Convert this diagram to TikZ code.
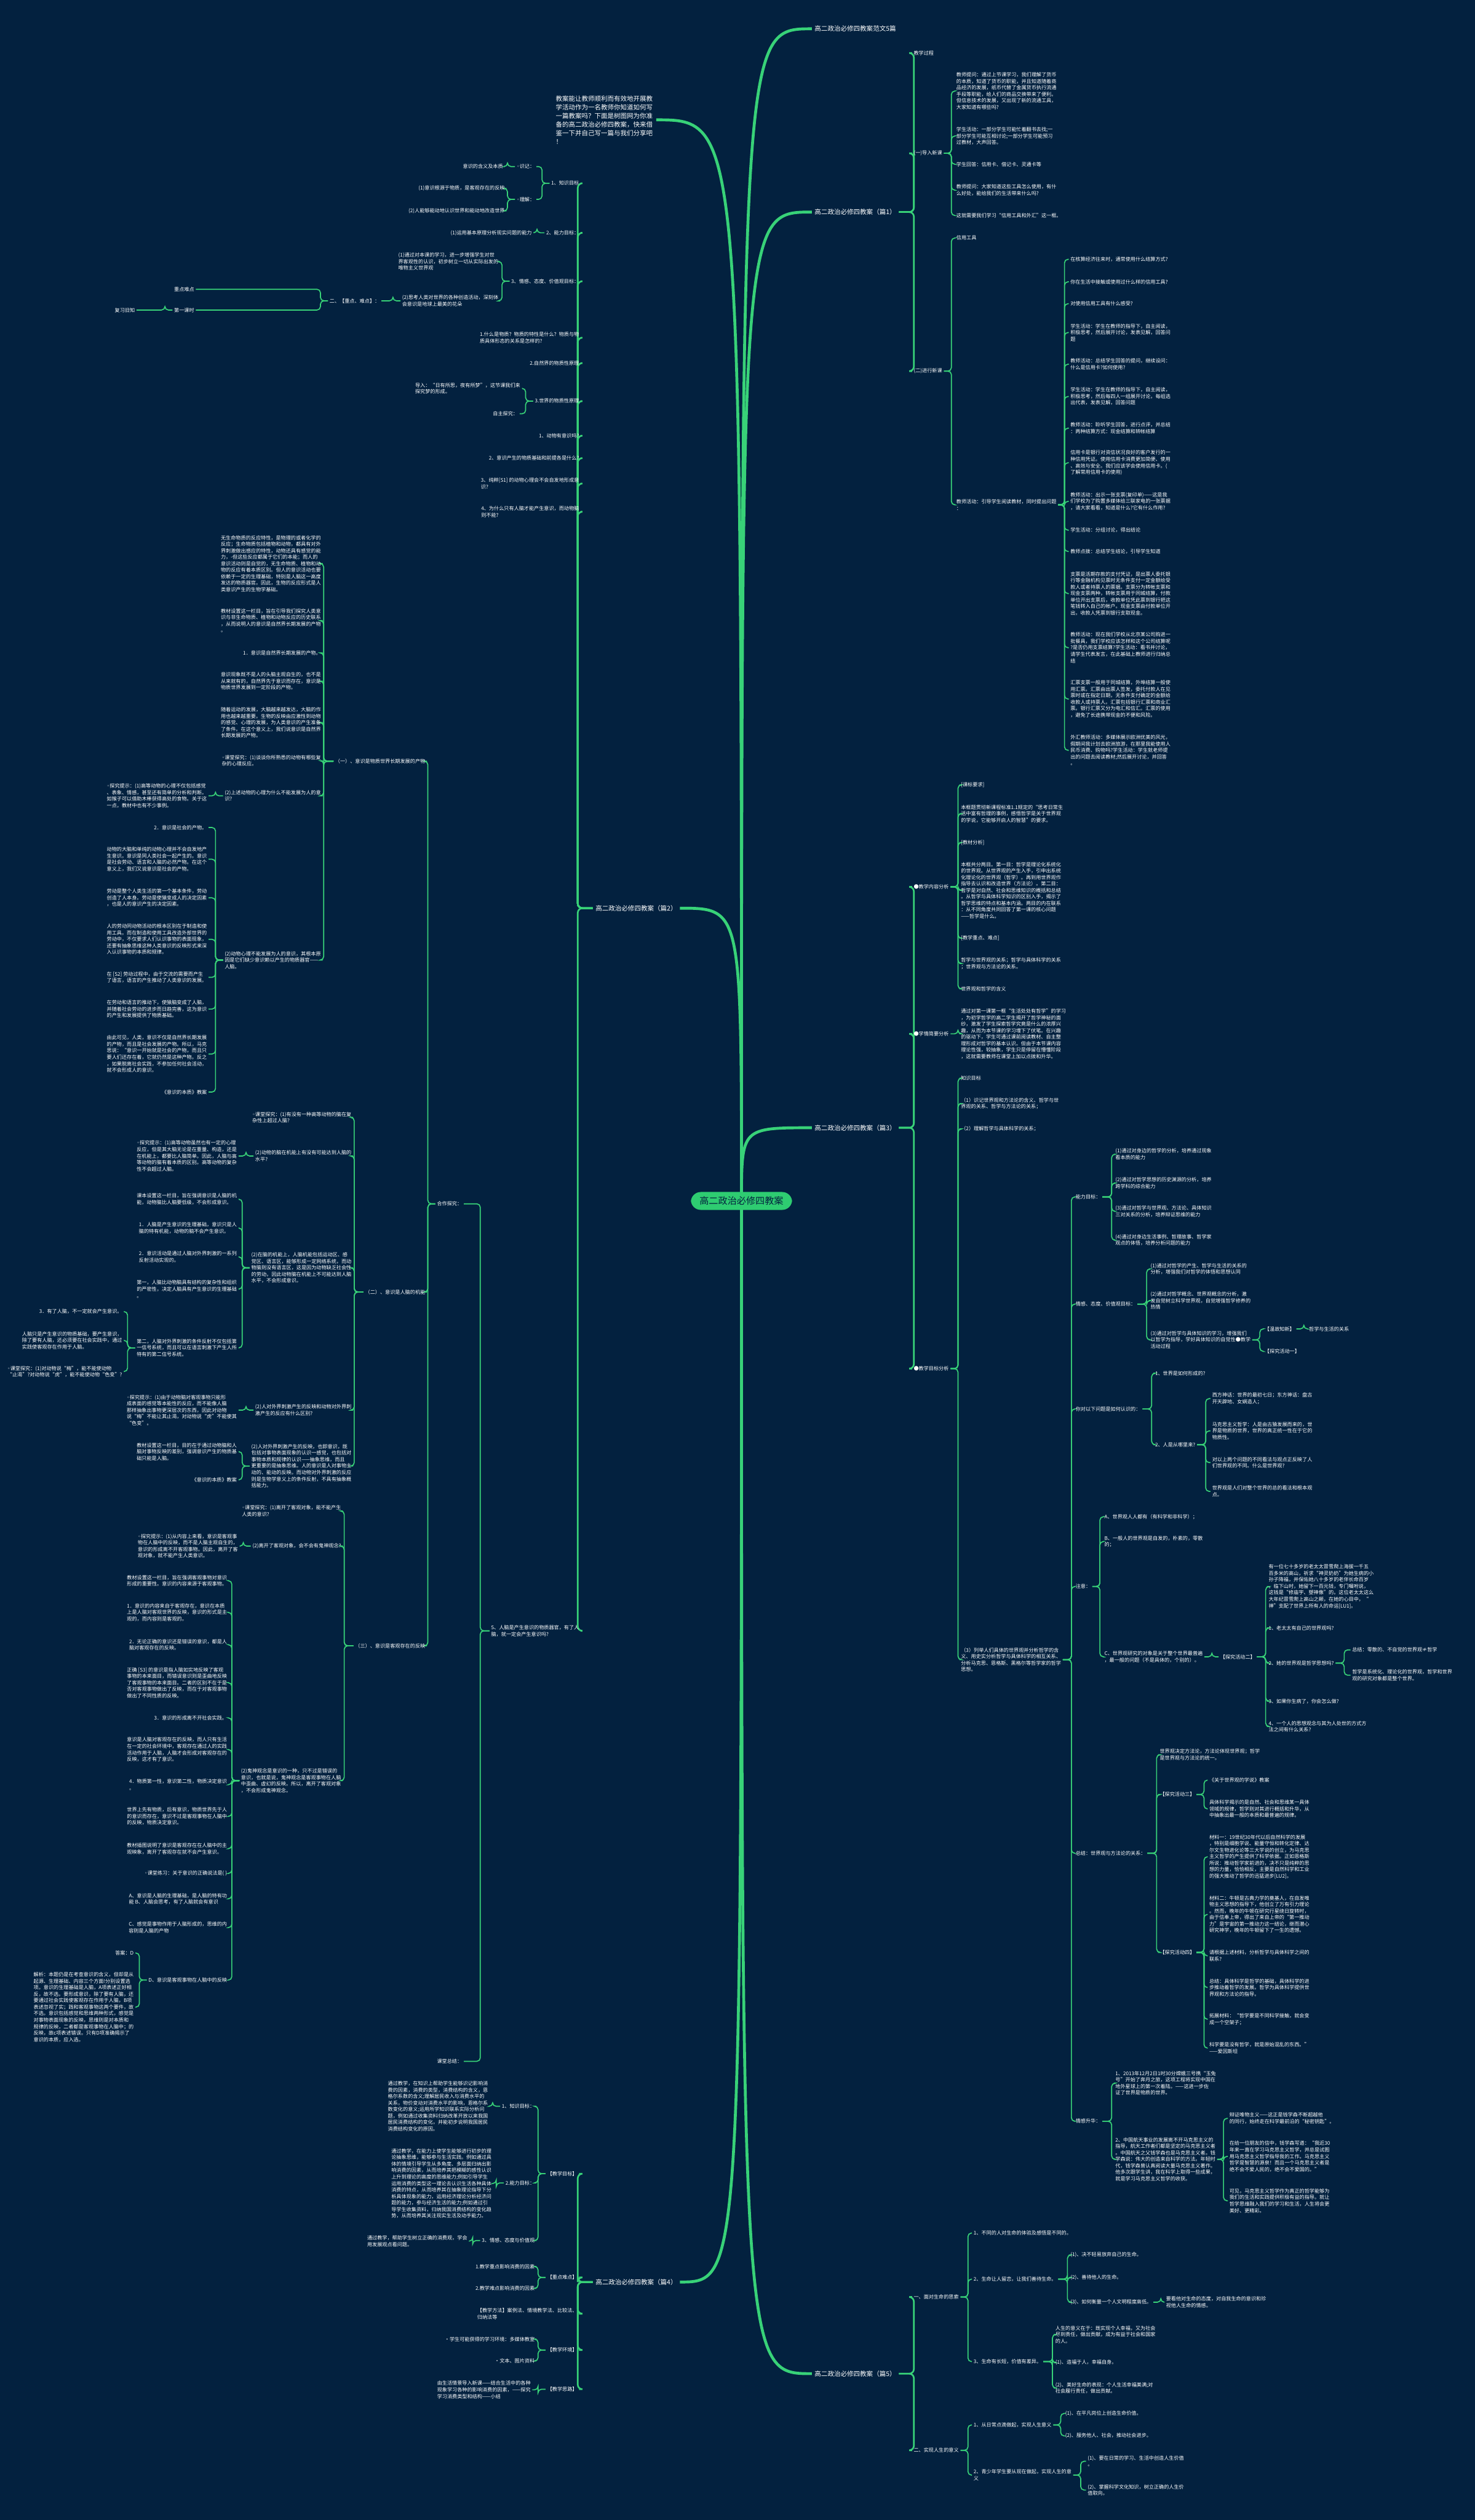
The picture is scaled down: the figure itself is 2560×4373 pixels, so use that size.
\documentclass[tikz,border=0pt]{standalone}
\usepackage{fontspec}
\setmainfont{Noto Sans CJK SC}
\newfontfamily\djv{DejaVu Sans}
\definecolor{bgc}{RGB}{3,33,63}
\definecolor{lnc}{RGB}{56,210,120}
\definecolor{pillc}{RGB}{46,204,113}
\pgfdeclarelayer{bglayer}\pgfdeclarelayer{connlayer}
\pgfsetlayers{bglayer,connlayer,main}
\newcommand\wb{{\djv ◦}}
\tikzset{
 t/.style={font=\fontsize{2.47}{3.2}\selectfont, text=white, inner sep=0pt, outer sep=0.3mm, align=left},
 tl/.style={t, anchor=east}, tr/.style={t, anchor=west},
 ttl/.style={font=\fontsize{3.2}{4}\selectfont, text=white, inner sep=0pt, outer sep=0.5mm},
 conn/.style={draw=lnc, line width=0.18mm, rounded corners=0.6mm},
 conn2/.style={draw=lnc, line width=0.28mm, rounded corners=0.8mm},
 mainc/.style={draw=lnc, line width=0.5mm},
}
\newcommand\RG[3][13]{\foreach \kid in {#3}{\draw[conn] (#2.east) -- ++(#1,0) |- (\kid.west);}}
\newcommand\LG[3][13]{\foreach \kid in {#3}{\draw[conn] (#2.west) -- ++(-#1,0) |- (\kid.east);}}
\newcommand\RT[2]{\foreach \kid in {#2}{\draw[conn2] (#1.east) -- ++(26,0) |- (\kid.west);}}
\newcommand\LT[2]{\foreach \kid in {#2}{\draw[conn2] (#1.west) -- ++(-26,0) |- (\kid.east);}}
\begin{document}
\begin{tikzpicture}[x=0.1mm,y=-0.1mm]
\begin{pgfonlayer}{bglayer}\fill[bgc] (0,0) rectangle (2560,4373);\end{pgfonlayer}
\useasboundingbox (0,0) rectangle (2560,4373);

% ===== root =====
\node[fill=pillc, rounded corners=1.7mm, text=bgc, font=\fontsize{4.6}{5.5}\selectfont, inner xsep=1.5mm, inner ysep=0.8mm] (root) at (1287,2084) {高二政治必修四教案};

% ===== intro =====
\node[anchor=east, font=\fontsize{3.19}{4.27}\selectfont, text=white, align=left, inner sep=0pt, outer sep=0.6mm] (intro) at (1139,208) {教案能让教师顺利而有效地开展教\\学活动作为一名教师你知道如何写\\一篇教案吗？下面是树图网为你准\\备的高二政治必修四教案，快来借\\鉴一下并自己写一篇与我们分享吧\\！};

% ===== right: titles =====
\node[ttl,anchor=west] (f5) at (1409,50) {高二政治必修四教案范文5篇};
\node[ttl,anchor=west] (p1) at (1409,368) {高二政治必修四教案（篇1）};
\node[ttl,anchor=west] (p3) at (1409,1957) {高二政治必修四教案（篇3）};
\node[ttl,anchor=west] (p5) at (1409,4119) {高二政治必修四教案（篇5）};

% ----- 篇1 -----
\node[tr] (p1a) at (1583,92) {教学过程};
\node[tr] (p1b) at (1583,266) {(一)导入新课};
\node[tr] (p1c) at (1583,644) {(二)进行新课};
\node[tr] (p1b1) at (1657,158) {教师提问：通过上节课学习，我们理解了货币\\的本质，知道了货币的职能，并且知道随着商\\品经济的发展，纸币代替了金属货币执行流通\\手段等职能，给人们的商品交换带来了便利。\\但信息技术的发展，又出现了新的流通工具，\\大家知道有哪些吗?};
\node[tr] (p1b2) at (1657,236) {学生活动：一部分学生可能忙着翻书去找;一\\部分学生可能互相讨论;一部分学生可能预习\\过教材，大声回答。};
\node[tr] (p1b3) at (1657,285) {学生回答：信用卡、借记卡、灵通卡等};
\node[tr] (p1b4) at (1657,330) {教师提问：大家知道这些工具怎么使用，有什\\么好处，能给我们的生活带来什么吗?};
\node[tr] (p1b5) at (1657,374) {这就需要我们学习“信用工具和外汇”这一框。};
\node[tr] (p1c1) at (1657,413) {信用工具};
\node[tr] (p1c2) at (1657,876) {教师活动：引导学生阅读教材，同时提出问题\\：};
\node[tr] (q1) at (1855,450) {在核算经济往来时，通常使用什么结算方式?};
\node[tr] (q2) at (1855,489) {你在生活中接触或使用过什么样的信用工具?};
\node[tr] (q3) at (1855,527) {对使用信用工具有什么感受?};
\node[tr] (q4) at (1855,577) {学生活动：学生在教师的指导下，自主阅读，\\积极思考，然后展开讨论，发表见解，回答问\\题};
\node[tr] (q5) at (1855,632) {教师活动：总结学生回答的提问，继续设问：\\什么是信用卡?如何使用?};
\node[tr] (q6) at (1855,688) {学生活动：学生在教师的指导下，自主阅读，\\积极思考，然后每四人一组展开讨论，每组选\\出代表，发表见解，回答问题};
\node[tr] (q7) at (1855,743) {教师活动：聆听学生回答，进行点评，并总结\\：两种结算方式：现金结算和转帐结算};
\node[tr] (q8) at (1855,803) {信用卡是银行对资信状况良好的客户发行的一\\种信用凭证。使用信用卡消费更加简便、使用\\、高效与安全。我们应该学会使用信用卡。(\\了解常用信用卡的使用)};
\node[tr] (q9) at (1855,870) {教师活动：出示一张支票(复印单)——这是我\\们学校为了购置多媒体给三联家电的一张票据\\，请大家看看，知道是什么?它有什么作用?};
\node[tr] (q10) at (1855,920) {学生活动：分组讨论，得出结论};
\node[tr] (q11) at (1855,957) {教师点拨：总结学生结论，引导学生知道};
\node[tr] (q12) at (1855,1030) {支票是活期存款的支付凭证，是出票人委托银\\行等金融机构见票时无条件支付一定金额给受\\款人或者持票人的票据。支票分为转帐支票和\\现金支票两种，转帐支票用于同城结算，付款\\单位开出支票后，收款单位凭此票到银行把这\\笔钱转入自己的帐户。现金支票由付款单位开\\出，收款人凭票到银行支取现金。};
\node[tr] (q13) at (1855,1124) {教师活动：现在我们学校从北京某公司购进一\\批餐具，我们学校应该怎样和这个公司结算呢\\?是否仍用支票结算?学生活动：看书并讨论，\\请学生代表发言，在此基础上教师进行归纳总\\结};
\node[tr] (q14) at (1855,1213) {汇票支票一般用于同城结算，外埠结算一般使\\用汇票。汇票由出票人签发，委托付款人在见\\票时或在指定日期，无条件支付确定的金额给\\收款人或持票人。汇票包括银行汇票和商业汇\\票。银行汇票又分为电汇和信汇。汇票的使用\\，避免了长途携带现金的不便和风险。};
\node[tr] (q15) at (1855,1302) {外汇教师活动：多媒体展示欧洲优美的风光，\\假期间我计划去欧洲旅游，在那里我能使用人\\民币消费、购物吗?学生活动：学生就老师提\\出的问题去阅读教材;然后展开讨论，并回答\\。};

% ----- 篇3 -----
\node[tr] (p3a) at (1583,1539) {●教学内容分析};
\node[tr] (p3b) at (1583,1794) {●学情简要分析};
\node[tr] (p3c) at (1583,2375) {●教学目标分析};
\node[tr] (p3a1) at (1665,1362) {[课标要求]};
\node[tr] (p3a2) at (1665,1412) {本框题贯彻新课程标准1.1规定的“思考日常生\\活中富有哲理的事例，感悟哲学是关于世界观\\的学说，它能够开启人的智慧”的要求。};
\node[tr] (p3a3) at (1665,1462) {[教材分析]};
\node[tr] (p3a4) at (1665,1545) {本框共分两目。第一目：哲学是理论化系统化\\的世界观。从世界观的产生入手，引申出系统\\化理论化的世界观（哲学）。再到用世界观作\\指导去认识和改造世界（方法论）。第二目：\\哲学是对自然、社会和思维知识的概括和总结\\。从哲学与具体科学知识的区别入手，揭示了\\哲学思维的特点和基本内涵。两目的内在联系\\：从不同角度共同回答了第一课的核心问题\\——哲学是什么。};
\node[tr] (p3a5) at (1665,1628) {[教学重点、难点]};
\node[tr] (p3a6) at (1665,1672) {哲学与世界观的关系；哲学与具体科学的关系\\；世界观与方法论的关系。};
\node[tr] (p3a7) at (1665,1716) {世界观和哲学的含义};
\node[tr] (p3b1) at (1665,1794) {通过对第一课第一框“生活处处有哲学”的学习\\，为初学哲学的高二学生揭开了哲学神秘的面\\纱，激发了学生探索哲学究竟是什么的浓厚兴\\趣，从而为本节课的学习埋下了伏笔。在兴趣\\的驱动下，学生可通过课前阅读教材、自主整\\理形成对哲学的基本认识。但由于本节课内容\\理论性强，较抽象，学生只是停留在懵懂阶段\\，这就需要教师在课堂上加以点拨和升华。};
\node[tr] (p3c1) at (1665,1871) {知识目标};
\node[tr] (p3c2) at (1665,1915) {（1）识记世界观和方法论的含义、哲学与世\\界观的关系、哲学与方法论的关系；};
\node[tr] (p3c3) at (1665,1959) {（2）理解哲学与具体科学的关系；};
\node[tr] (p3c4) at (1665,2880) {（3）列举人们具体的世界观并分析哲学的含\\义、用史实分析哲学与具体科学的相互关系、\\分析马克思、恩格斯、黑格尔等哲学家的哲学\\思想。};
\node[tr] (ga) at (1864,2077) {能力目标：};
\node[tr] (gb) at (1864,2263) {情感、态度、价值观目标：};
\node[tr] (gc) at (1864,2445) {你对以下问题是如何认识的：};
\node[tr] (gd) at (1864,2753) {注意：};
\node[tr] (ge) at (1864,3216) {总结：世界观与方法论的关系：};
\node[tr] (gf) at (1864,3681) {情感升华：};
\node[tr] (ga1) at (1933,2003) {(1)通过对身边的哲学的分析，培养通过现象\\看本质的能力};
\node[tr] (ga2) at (1933,2053) {(2)通过对哲学思想的历史渊源的分析，培养\\跨学科的综合能力};
\node[tr] (ga3) at (1933,2102) {(3)通过对哲学与世界观、方法论、具体知识\\三对关系的分析，培养辩证思维的能力};
\node[tr] (ga4) at (1933,2152) {(4)通过对身边生活事例、哲理故事、哲学家\\观点的体悟，培养分析问题的能力};
\node[tr] (gb1) at (1994,2202) {(1)通过对哲学的产生、哲学与生活的关系的\\分析，增强我们对哲学的体悟和思想认同};
\node[tr] (gb2) at (1994,2257) {(2)通过对哲学概念、世界观概念的分析，激\\发自觉树立科学世界观，自觉增强哲学修养的\\热情};
\node[tr] (gb3) at (1994,2325) {(3)通过对哲学与具体知识的学习，增强我们\\以哲学为指导，学好具体知识的自觉性●教学\\活动过程};
\node[tr] (gb3a) at (2192,2306) {【温故知新】};
\node[tr] (gb3b) at (2192,2345) {【探究活动一】};
\node[tr] (gb3a1) at (2269,2306) {哲学与生活的关系};
\node[tr] (gc1) at (2002,2383) {1、世界是如何形成的?};
\node[tr] (gc2) at (2002,2507) {2、人是从哪里来?};
\node[tr] (gc2a) at (2101,2427) {西方神话：世界的最初七日；东方神话：盘古\\开天辟地、女娲造人；};
\node[tr] (gc2b) at (2101,2483) {马克思主义哲学：人是由古猿发展而来的，世\\界是物质的世界，世界的真正统一性在于它的\\物质性。};
\node[tr] (gc2c) at (2101,2538) {对以上两个问题的不同看法与观点正反映了人\\们世界观的不同。什么是世界观?};
\node[tr] (gc2d) at (2101,2588) {世界观是人们对整个世界的总的看法和根本观\\点。};
\node[tr] (gd1) at (1914,2632) {A、世界观人人都有（有科学和非科学）；};
\node[tr] (gd2) at (1914,2675) {B、一般人的世界观是自发的，朴素的，零散\\的；};
\node[tr] (gd3) at (1914,2875) {C、世界观研究的对象是关于整个世界最普遍\\，最一般的问题（不是具体的，个别的）。};
\node[tr] (gd3a) at (2115,2875) {【探究活动二】};
\node[tr] (gd3a1) at (2199,2753) {有一位七十多岁的老太太冒雪爬上海拔一千五\\百多米的高山，祈求“神灵奶奶”为她生病的小\\孙子降福，并保佑她八十多岁的老伴长命百岁\\。临下山时，她留下一百元钱，专门嘱咐说，\\这钱是“修庙宇、塑神像”的。这位老太太这么\\大年纪冒雪爬上高山之颠，在她的心目中，“\\神”支配了世界上所有人的命运[LU1]。};
\node[tr] (gd3a2) at (2199,2825) {1、老太太有自己的世界观吗?};
\node[tr] (gd3a3) at (2199,2886) {2、她的世界观是哲学思想吗?};
\node[tr] (gd3a4) at (2199,2952) {3、如果你生病了，你会怎么做?};
\node[tr] (gd3a5) at (2199,2996) {4、一个人的思想观念与其为人处世的方式方\\法之间有什么关系?};
\node[tr] (gd3a3x) at (2344,2863) {总结：零散的、不自觉的世界观≠哲学};
\node[tr] (gd3a3y) at (2344,2907) {哲学是系统化、理论化的世界观，哲学和世界\\观的研究对象都是整个世界。};
\node[tr] (ge1) at (2010,3045) {世界观决定方法论，方法论体现世界观；哲学\\是世界观与方法论的统一。};
\node[tr] (ge2) at (2010,3114) {【探究活动三】};
\node[tr] (ge3) at (2010,3388) {【探究活动四】};
\node[tr] (ge2a) at (2096,3089) {《关于世界观的学说》教案};
\node[tr] (ge2b) at (2096,3139) {具体科学揭示的是自然、社会和思维某一具体\\领域的规律，哲学则对其进行概括和升华，从\\中抽象出最一般的本质和最普遍的规律。};
\node[tr] (ge3a) at (2096,3222) {材料一：19世纪30年代以后自然科学的发展\\，特别是细胞学说、能量守恒和转化定律、达\\尔文生物进化论等三大学说的创立，为马克思\\主义哲学的产生提供了科学依据。正如恩格斯\\所说：推动哲学家前进的，决不只是纯粹的思\\想的力量，恰恰相反，主要是自然科学和工业\\的强大推动了哲学的迅猛进步[LU2]。};
\node[tr] (ge3b) at (2096,3322) {材料二：牛顿是古典力学的奠基人，在自发唯\\物主义思想的指导下，他创立了万有引力理论\\。然而，晚年的牛顿在研究行星绕日旋转时，\\由于信奉上帝，得出了来自上帝的“第一推动\\力”是宇宙的第一推动力这一结论，继而潜心\\研究神学，晚年的牛顿留下了一生的遗憾。};
\node[tr] (ge3c) at (2096,3394) {请根据上述材料，分析哲学与具体科学之间的\\联系?};
\node[tr] (ge3d) at (2096,3449) {总结：具体科学是哲学的基础，具体科学的进\\步推动着哲学的发展。哲学为具体科学提供世\\界观和方法论的指导。};
\node[tr] (ge3e) at (2096,3504) {拓展材料：“哲学要是不同科学接触，就会变\\成一个空架子；};
\node[tr] (ge3f) at (2096,3554) {科学要是没有哲学，就是原始混乱的东西。”\\——爱因斯坦};
\node[tr] (gf1) at (1933,3615) {1、2013年12月2日1时30分嫦娥三号携“玉兔\\号”开始了奔月之旅，这项工程将实现中国在\\地外星球上的第一次着陆。——这进一步佐\\证了世界是物质的世界。};
\node[tr] (gf2) at (1933,3747) {2、中国航天事业的发展离不开马克思主义的\\指导，航天工作者们都是坚定的马克思主义者\\。中国航天之父钱学森也是马克思主义者。钱\\学森说：伟大的创造来自科学的方法。年轻时\\代，钱学森曾认真阅读大量马克思主义著作。\\他多次跟学生讲，我在科学上取得一些成果，\\就是学习马克思主义哲学的收获。};
\node[tr] (gf2a) at (2131,3676) {辩证唯物主义——这正是钱学森不断超越他\\的同行，始终走在科学最前沿的“秘密钥匙”。};
\node[tr] (gf2b) at (2131,3742) {在给一位朋友的信中，钱学森写道：“我近30\\年来一直在学习马克思主义哲学，并总是试图\\用马克思主义哲学指导我的工作。马克思主义\\哲学是智慧的源泉！而且一个马克思主义者是\\绝不会不爱人民的，绝不会不爱国的。”};
\node[tr] (gf2c) at (2131,3819) {可见，马克思主义哲学作为真正的哲学能够为\\我们的生活和实践提供积极有益的指导。就让\\哲学思维融入我们的学习和生活，人生将会更\\美好、更精彩。};

% ----- 篇5 -----
\node[tr] (p5a) at (1583,3986) {一、面对生命的思索};
\node[tr] (p5b) at (1583,4252) {二、实现人生的意义};
\node[tr] (p5a1) at (1687,3875) {1、不同的人对生命的体验及感悟是不同的。};
\node[tr] (p5a2) at (1687,3955) {2、生命让人留恋，让我们善待生命。};
\node[tr] (p5a3) at (1687,4098) {3、生命有长短，价值有差异。};
\node[tr] (p5a2a) at (1855,3913) {(1)、决不轻易放弃自己的生命。};
\node[tr] (p5a2b) at (1855,3952) {(2)、善待他人的生命。};
\node[tr] (p5a2c) at (1855,3995) {(3)、如何衡量一个人文明程度高低。};
\node[tr] (p5a2cx) at (2021,3995) {要看他对生命的态度，对自我生命的意识和珍\\视他人生命的情感。};
\node[tr] (p5a3a) at (1829,4051) {人生的意义在于：既实现个人幸福，又为社会\\尽到责任，做出贡献，成为有益于社会和国家\\的人。};
\node[tr] (p5a3b) at (1829,4100) {(1)、造福于人，幸福自身。};
\node[tr] (p5a3c) at (1829,4144) {(2)、美好生命的表现：个人生活幸福美满;对\\社会履行责任，做出贡献。};
\node[tr] (p5b1) at (1687,4208) {1、从日常点滴做起，实现人生意义};
\node[tr] (p5b2) at (1687,4295) {2、青少年学生要从现在做起，实现人生的意\\义};
\node[tr] (p5b1a) at (1846,4188) {(1)、在平凡岗位上创造生命价值。};
\node[tr] (p5b1b) at (1846,4227) {(2)、服务他人、社会，推动社会进步。};
\node[tr] (p5b2a) at (1885,4271) {(1)、要在日常的学习、生活中创造人生价值\\。};
\node[tr] (p5b2b) at (1885,4321) {(2)、掌握科学文化知识，树立正确的人生价\\值取向。};

% ===== left: 篇2 =====
\node[ttl,anchor=east] (p2) at (1180,1576) {高二政治必修四教案（篇2）};
\node[tl] (k1) at (1008,318) {1、知识目标};
\node[tl] (k2) at (1008,404) {2、能力目标：};
\node[tl] (k3) at (1008,488) {3、情感、态度、价值观目标：};
\node[tl] (k4) at (1008,586) {1.什么是物质？物质的特性是什么？物质与物\\质具体形态的关系是怎样的?};
\node[tl] (k5) at (1008,630) {2.自然界的物质性原理};
\node[tl] (k6) at (1008,696) {3.世界的物质性原理};
\node[tl] (k7) at (1008,756) {1、动物有意识吗?};
\node[tl] (k8) at (1008,795) {2、意识产生的物质基础和前提各是什么?};
\node[tl] (k9) at (1008,839) {3、纯粹[S1] 的动物心理会不会自发地形成意\\识?};
\node[tl] (k10) at (1008,888) {4、为什么只有人脑才能产生意识，而动物脑\\则不能?};
\node[tl] (k11) at (1008,2830) {5、人脑是产生意识的物质器官，有了人\\脑，就一定会产生意识吗?};
\node[tl] (k1a) at (931,289) {\wb 识记：};
\node[tl] (k1b) at (931,346) {\wb 理解：};
\node[tl] (k1a1) at (876,289) {意识的含义及本质};
\node[tl] (k1b1) at (879,327) {(1)意识根源于物质，是客观存在的反映};
\node[tl] (k1b2) at (879,366) {(2)人能够能动地认识世界和能动地改造世界};
\node[tl] (k2a) at (926,404) {(1)运用基本原理分析现实问题的能力};
\node[tl] (k3a) at (868,454) {(1)通过对本课的学习，进一步增强学生对世\\界客观性的认识，初步树立一切从实际出发的\\唯物主义世界观};
\node[tl] (k3b) at (868,522) {(2)思考人类对世界的各种创造活动，深刻体\\会意识是地球上最美的花朵};
\node[tl] (zd) at (662,522) {二、【重点、难点】：};
\node[tl] (zd1) at (340,502) {重点难点};
\node[tl] (zd2) at (340,538) {第一课时};
\node[tl] (zd2a) at (237,538) {复习旧知};
\node[tl] (k6a) at (906,674) {导入：“日有所思，夜有所梦”，这节课我们来\\探究梦的形成。};
\node[tl] (k6b) at (902,718) {自主探究：};
\node[tl] (hz) at (805,2089) {合作探究：};
\node[tl] (kz) at (805,3577) {课堂总结：};
\node[tl] (y1) at (741,1321) {（一）、意识是物质世界长期发展的产物};
\node[tl] (y2) at (741,2242) {（二）、意识是人脑的机能};
\node[tl] (y3) at (741,2856) {（三）、意识是客观存在的反映};
% (一)
\node[tl] (y1a) at (560,978) {无生命物质的反应特性，是物理的或者化学的\\反应；生命物质包括植物和动物，都具有对外\\界刺激做出感应的特性，动物还具有感觉的能\\力，-但这些反应都属于它们的本能；而人的\\意识活动则是自觉的，无生命物质、植物和动\\物的反应有着本质区别。但人的意识活动也要\\依赖于一定的生理基础，特别是人脑这一高度\\发达的物质器官。因此，生物的反应形式是人\\类意识产生的生物学基础。};
\node[tl] (y1b) at (560,1077) {教材设置这一栏目，旨在引导我们探究人类意\\识与非生命物质、植物和动物反应的历史联系\\，从而说明人的意识是自然界长期发展的产物\\。};
\node[tl] (y1c) at (560,1133) {1．意识是自然界长期发展的产物。};
\node[tl] (y1d) at (560,1182) {意识现象既不是人的头脑主观自生的，也不是\\从来就有的，自然界先于意识而存在，意识是\\物质世界发展到一定阶段的产物。};
\node[tl] (y1e) at (560,1254) {随着运动的发展，大脑越来越发达，大脑的作\\用也越来越重要。生物的反映由应激性到动物\\的感觉、心理的发展，为人类意识的产生准备\\了条件。在这个意义上，我们说意识是自然界\\长期发展的产物。};
\node[tl] (y1f) at (560,1320) {\wb 课堂探究：(1)谈谈你所熟悉的动物有哪些复\\杂的心理反应。};
\node[tl] (y1g) at (560,1381) {(2)上述动物的心理为什么不能发展为人的意\\识?};
\node[tl] (y1h) at (560,1666) {(2)动物心理不能发展为人的意识，其根本原\\因是它们缺少意识赖以产生的物质器官——\\人脑。};
\node[tl] (y1gx) at (362,1381) {\wb 探究提示：(1)高等动物的心理不仅包括感觉\\、表象、情感，甚至还有简单的分析和判断。\\如猴子可以借助木棒获得高处的食物。关于这\\一点，教材中也有不少事例。};
\node[tl] (y1h1) at (362,1436) {2．意识是社会的产物。};
\node[tl] (y1h2) at (362,1491) {动物的大脑和单纯的动物心理并不会自发地产\\生意识。意识是同人类社会一起产生的。意识\\是社会劳动、语言和人脑的必然产物。在这个\\意义上，我们又说意识是社会的产物。};
\node[tl] (y1h3) at (362,1558) {劳动是整个人类生活的第一个基本条件，劳动\\创造了人本身。劳动是使猿变成人的决定因素\\，也是人的意识产生的决定因素。};
\node[tl] (y1h4) at (362,1630) {人的劳动同动物活动的根本区别在于制造和使\\用工具。而在制造和使用工具改造外部世界的\\劳动中，不仅要求人们认识事物的表面现象，\\还要有抽象思维这种人类意识的反映形式来深\\入认识事物的本质和规律。};
\node[tl] (y1h5) at (362,1696) {在 [S2] 劳动过程中，由于交流的需要而产生\\了语言，语言的产生推动了人类意识的发展。};
\node[tl] (y1h6) at (362,1751) {在劳动和语言的推动下，使猿脑变成了人脑，\\并随着社会劳动的进步而日趋完善，这为意识\\的产生和发展提供了物质基础。};
\node[tl] (y1h7) at (362,1829) {由此可见，人类，意识不仅是自然界长期发展\\的产物，而且是社会发展的产物。所以，马克\\思说：“意识一开始就是社会的产物，而且只\\要人们还存在着，它就仍然是这种产物。反之\\，如果脱离社会实践，不参加任何社会活动，\\就不会形成人的意识。};
\node[tl] (y1h8) at (362,1895) {《意识的本质》教案};
% (二)
\node[tl] (y2a) at (613,1939) {\wb 课堂探究：(1)有没有一种高等动物的脑在复\\杂性上超过人脑?};
\node[tl] (y2b) at (613,2006) {(2)动物的脑在机能上有没有可能达到人脑的\\水平?};
\node[tl] (y2c) at (613,2200) {(2)在脑的机能上，人脑机能包括运动区、感\\觉区、语言区，能够形成一定网络系统，而动\\物脑则没有语言区，这是因为动物缺乏社会性\\的劳动，因此动物脑在机能上不可能达到人脑\\水平，不会形成意识。};
\node[tl] (y2d) at (613,2447) {(2)人对外界刺激产生的反映和动物对外界刺\\激产生的反应有什么区别?};
\node[tl] (y2e) at (613,2544) {(2)人对外界刺激产生的反映，也即意识，既\\包括对事物表面现象的认识一感觉，也包括对\\事物本质和规律的认识——抽象思维，而且\\更重要的是抽象思维。人的意识是人对事物主\\动的、能动的反映。而动物对外界刺激的反应\\则是生物学意义上的条件反射，不具有抽象概\\括能力。};
\node[tl] (y2bx) at (414,2006) {\wb 探究提示：(1)高等动物虽然也有一定的心理\\反应，但是其大脑无论是在重量、构造，还是\\在机能上，都要比人脑简单。因此，人脑与高\\等动物的脑有着本质的区别。高等动物的复杂\\性不会超过人脑。};
\node[tl] (y2c1) at (414,2081) {课本设置这一栏目，旨在强调意识是人脑的机\\能，动物脑比人脑要低级，不会形成意识。};
\node[tl] (y2c2) at (414,2131) {1．人脑是产生意识的生理基础，意识只是人\\脑的特有机能，动物的脑不会产生意识。};
\node[tl] (y2c3) at (414,2181) {2．意识活动是通过人脑对外界刺激的一系列\\反射活动实现的。};
\node[tl] (y2c4) at (414,2237) {第一，人脑比动物脑具有结构的复杂性和组织\\的严密性，决定人脑具有产生意识的生理基础\\。};
\node[tl] (y2c5) at (414,2339) {第二，人脑对外界刺激的条件反射不仅包括第\\一信号系统，而且可以在语言刺激下产生人所\\特有的第二信号系统。};
\node[tl] (y2c5a) at (215,2276) {3．有了人脑，不一定就会产生意识。};
\node[tl] (y2c5b) at (215,2326) {人脑只是产生意识的物质基础，要产生意识，\\除了要有人脑，还必须要在社会实践中，通过\\实践使客观存在作用于人脑。};
\node[tl] (y2c5c) at (215,2380) {\wb 课堂探究：(1)对动物说“梅”，能不能使动物\\“止渴”?对动物说“虎”，能不能使动物“色变”?};
\node[tl] (y2dx) at (414,2447) {\wb 探究提示：(1)由于动物脑对客观事物只能形\\成表面的感觉等本能性的反应，而不能像人脑\\那样抽象出事物更深层次的东西，因此对动物\\说“梅”不能让其止渴，对动物说“虎”不能使其\\“色变”。};
\node[tl] (y2e1) at (414,2519) {教材设置这一栏目，目的在于通过动物脑和人\\脑对事物反映的差别，强调意识产生的物质基\\础只能是人脑。};
\node[tl] (y2e2) at (414,2568) {《意识的本质》教案};
% (三)
\node[tl] (y3a) at (595,2622) {\wb 课堂探究：(1)离开了客观对象，能不能产生\\人类的意识?};
\node[tl] (y3b) at (595,2683) {(2)离开了客观对象，会不会有鬼神观念?};
\node[tl] (y3c) at (595,3090) {(2)鬼神观念是意识的一种，只不过是错误的\\意识，也就是说，鬼神观念是客观事物在人脑\\中歪曲、虚幻的反映。所以，离开了客观对象\\，不会形成鬼神观念。};
\node[tl] (y3bx) at (416,2683) {\wb 探究提示：(1)从内容上来看，意识是客观事\\物在人脑中的反映，而不是人脑主观自生的，\\意识的形成离不开客观事物。因此，离开了客\\观对象，就不能产生人类意识。};
\node[tl] (y3c1) at (397,2743) {教材设置这一栏目，旨在强调客观事物对意识\\形成的重要性。意识的内容来源于客观事物。};
\node[tl] (y3c2) at (397,2798) {1．意识的内容来自于客观存在，意识在本质\\上是人脑对客观世界的反映，意识的形式是主\\观的，而内容则是客观的。};
\node[tl] (y3c3) at (397,2854) {2．无论正确的意识还是错误的意识，都是人\\脑对客观存在的反映。};
\node[tl] (y3c4) at (397,2920) {正确 [S3] 的意识是指人脑如实地反映了客观\\事物的本来面目，而错误意识则是歪曲地反映\\了客观事物的本来面目。二者的区别不在于是\\否对客观事物做出了反映，而在于对客观事物\\做出了不同性质的反映。};
\node[tl] (y3c5) at (397,2981) {3．意识的形成离不开社会实践。};
\node[tl] (y3c6) at (397,3036) {意识是人脑对客观存在的反映，而人只有生活\\在一定的社会环境中，客观存在通过人的实践\\活动作用于人脑，人脑才会形成对客观存在的\\反映，这才有了意识。};
\node[tl] (y3c7) at (397,3097) {4．物质第一性，意识第二性，物质决定意识\\。};
\node[tl] (y3c8) at (397,3152) {世界上先有物质，后有意识，物质世界先于人\\的意识而存在，意识不过是客观事物在人脑中\\的反映，物质决定意识。};
\node[tl] (y3c9) at (397,3208) {教材插图说明了意识是客观存在在人脑中的主\\观映象，离开了客观存在就不会产生意识。};
\node[tl] (y3c10) at (397,3251) {\wb 课堂练习：关于意识的正确说法是( )};
\node[tl] (y3c11) at (397,3295) {A、意识是人脑的生理基础，是人脑的特有功\\能 B、人脑会思考，有了人脑就会有意识};
\node[tl] (y3c12) at (397,3345) {C、感觉是事物作用于人脑形成的，思维的内\\容则是人脑的产物};
\node[tl] (y3c13) at (397,3436) {D、意识是客观事物在人脑中的反映};
\node[tl] (y3cA) at (235,3389) {答案：D};
\node[tl] (y3cB) at (235,3483) {解析：本题仍是在考查意识的含义，但却是从\\起源、生理基础、内容三个方面!分别设置选\\项。意识的生理基础是人脑，A项表述正好相\\反，故不选。要形成意识，除了要有人脑，还\\要通过社会实践使客观存在作用于人脑，B项\\表述忽视了实；践和客观事物这两个要件，故\\不选。意识包括感觉和思维两种形式，感觉是\\对事物表面现象的反映，思维则是对本质和\\规律的反映，二者都是客观事物在人脑中；的\\反映，故c项表述错误。只有D项准确揭示了\\意识的本质，应入选。};

% ===== left: 篇4 =====
\node[ttl,anchor=east] (p4) at (1180,3960) {高二政治必修四教案（篇4）};
\node[tl] (m1) at (1005,3772) {【教学目标】};
\node[tl] (m2) at (1005,3952) {【重点难点】};
\node[tl] (m3) at (1005,4015) {【教学方法】案例法、情境教学法、比较法、\\归纳法等};
\node[tl] (m4) at (1005,4078) {【教学环境】};
\node[tl] (m5) at (1005,4146) {【教学思路】};
\node[tl] (m1a) at (931,3655) {1、知识目标：};
\node[tl] (m1b) at (931,3788) {2.能力目标：};
\node[tl] (m1c) at (931,3888) {3、情感、态度与价值观};
\node[tl] (m1ax) at (850,3655) {通过教学，在知识上帮助学生能够识记影响消\\费的因素，消费的类型，消费结构的含义，恩\\格尔系数的含义;理解居民收入与消费水平的\\关系，物价变动对消费水平的影响，恩格尔系\\数变化的意义;运用所学知识联系实际分析问\\题，例如通过收集资料归纳改革开放以来我国\\居民消费结构的变化，并能初步说明我国居民\\消费结构变化的原因。};
\node[tl] (m1bx) at (856,3789) {通过教学，在能力上使学生能够进行初步的理\\论抽象思维，能够参与生活实践。例如通过具\\体的情境引导学生从多角度、多层面归纳出影\\响消费的因素，从而培养其把模糊的感性认识\\上升到理论的高度的思维能力;例如引导学生\\运用消费的类型这一理论去认识生活各种具体\\消费的特点，从而培养其在抽象理论指导下分\\析具体现象的能力，运用经济理论分析经济问\\题的能力，参与经济生活的能力;例如通过引\\导学生收集资料，归纳我国消费结构的变化趋\\势，从而培养其关注现实生活及动手能力。};
\node[tl] (m1cx) at (814,3889) {通过教学，帮助学生树立正确的消费观，学会\\用发展观点看问题。};
\node[tl] (m2a) at (931,3933) {1.教学重点影响消费的因素};
\node[tl] (m2b) at (931,3971) {2.教学难点影响消费的因素};
\node[tl] (m4a) at (931,4059) {•学生可能获得的学习环境：多媒体教室};
\node[tl] (m4b) at (931,4097) {•文本、图片资料};
\node[tl] (m5x) at (924,4147) {由生活情景导入新课——结合生活中的各种\\现象学习各种的影响消费的因素，——探究\\学习消费类型和结构——小结};

% ===== connectors =====
\begin{pgfonlayer}{connlayer}
\foreach \k in {f5,p1,p3,p5} \draw[mainc] (root.center) .. controls (root.center |- \k.west) .. (\k.west);
\foreach \k in {intro,p2,p4} \draw[mainc] (root.center) .. controls (root.center |- \k.east) .. (\k.east);
\RT{p1}{p1a,p1b,p1c}
\RG{p1b}{p1b1,p1b2,p1b3,p1b4,p1b5}
\RG{p1c}{p1c1,p1c2}
\RG[11]{p1c2}{q1,q2,q3,q4,q5,q6,q7,q8,q9,q10,q11,q12,q13,q14,q15}
\RT{p3}{p3a,p3b,p3c}
\RG{p3a}{p3a1,p3a2,p3a3,p3a4,p3a5,p3a6,p3a7}
\RG{p3b}{p3b1}
\RG{p3c}{p3c1,p3c2,p3c3,p3c4}
\RG[15]{p3c4}{ga,gb,gc,gd,ge,gf}
\RG[16]{ga}{ga1,ga2,ga3,ga4}
\RG[16]{gb}{gb1,gb2,gb3}
\RG{gb3}{gb3a,gb3b}
\RG{gb3a}{gb3a1}
\RG[16]{gc}{gc1,gc2}
\RG[15]{gc2}{gc2a,gc2b,gc2c,gc2d}
\RG{gd}{gd1,gd2,gd3}
\RG{gd3}{gd3a}
\RG[15]{gd3a}{gd3a1,gd3a2,gd3a3,gd3a4,gd3a5}
\RG[15]{gd3a3}{gd3a3x,gd3a3y}
\RG[16]{ge}{ge1,ge2,ge3}
\RG{ge2}{ge2a,ge2b}
\RG{ge3}{ge3a,ge3b,ge3c,ge3d,ge3e,ge3f}
\RG[16]{gf}{gf1,gf2}
\RG[11]{gf2}{gf2a,gf2b,gf2c}
\RT{p5}{p5a,p5b}
\RG{p5a}{p5a1,p5a2,p5a3}
\RG[16]{p5a2}{p5a2a,p5a2b,p5a2c}
\RG{p5a2c}{p5a2cx}
\RG[16]{p5a3}{p5a3a,p5a3b,p5a3c}
\RG{p5b}{p5b1,p5b2}
\RG{p5b1}{p5b1a,p5b1b}
\RG{p5b2}{p5b2a,p5b2b}
\LT{p2}{k1,k2,k3,k4,k5,k6,k7,k8,k9,k10,k11}
\LG{k1}{k1a,k1b}
\LG{k1a}{k1a1}
\LG{k1b}{k1b1,k1b2}
\LG{k2}{k2a}
\LG{k3}{k3a,k3b}
\LG{k3b}{zd}
\LG{zd}{zd1,zd2}
\LG{zd2}{zd2a}
\LG{k6}{k6a,k6b}
\LG[16]{k11}{hz,kz}
\LG{hz}{y1,y2,y3}
\LG[17]{y1}{y1a,y1b,y1c,y1d,y1e,y1f,y1g,y1h}
\LG{y1g}{y1gx}
\LG{y1h}{y1h1,y1h2,y1h3,y1h4,y1h5,y1h6,y1h7,y1h8}
\LG[16]{y2}{y2a,y2b,y2c,y2d,y2e}
\LG{y2b}{y2bx}
\LG{y2c}{y2c1,y2c2,y2c3,y2c4,y2c5}
\LG{y2c5}{y2c5a,y2c5b,y2c5c}
\LG{y2d}{y2dx}
\LG{y2e}{y2e1,y2e2}
\LG[16]{y3}{y3a,y3b,y3c}
\LG{y3b}{y3bx}
\LG{y3c}{y3c1,y3c2,y3c3,y3c4,y3c5,y3c6,y3c7,y3c8,y3c9,y3c10,y3c11,y3c12,y3c13}
\LG{y3c13}{y3cA,y3cB}
\LT{p4}{m1,m2,m3,m4,m5}
\LG{m1}{m1a,m1b,m1c}
\LG{m1a}{m1ax}
\LG{m1b}{m1bx}
\LG{m1c}{m1cx}
\LG{m2}{m2a,m2b}
\LG{m4}{m4a,m4b}
\LG{m5}{m5x}
\end{pgfonlayer}
\end{tikzpicture}
\end{document}
